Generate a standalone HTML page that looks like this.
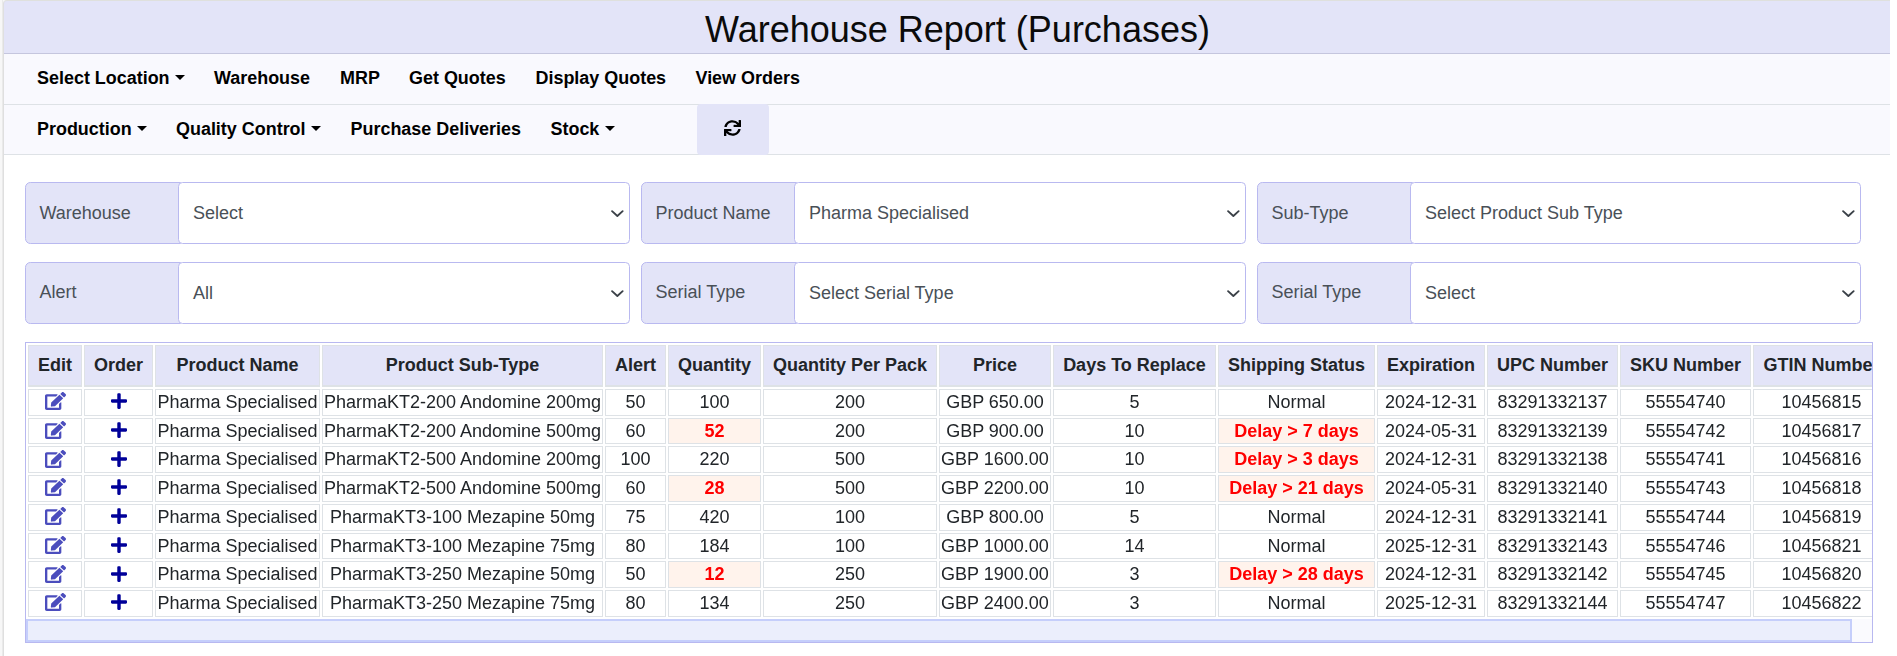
<!DOCTYPE html>
<html lang="en">
<head>
<meta charset="utf-8">
<title>Warehouse Report (Purchases)</title>
<style>
*{box-sizing:border-box;}
html,body{margin:0;padding:0;}
body{width:1897px;height:656px;overflow:hidden;background:#fff;font-family:"Liberation Sans",sans-serif;position:relative;color:#212529;}
.abs{position:absolute;}
#leftstrip{left:0;top:0;width:3px;height:656px;background:linear-gradient(to right,#f7f7f7 0,#f7f7f7 2px,#eaeaea 2px,#eaeaea 3px);}
#cornerpatch{left:3px;top:0;width:6px;height:6px;background:#f7f7f7;}
#leftborder{left:3px;top:6px;width:1px;height:650px;background:#dfdfdf;}
#topborder{left:8px;top:0;width:1882px;height:1px;background:#dfe0dd;}
#hdr{left:3px;top:0;width:1887px;height:53px;background:#e3e4f8;border-top-left-radius:4px;border-top:1px solid #dfe0dd;border-left:1px solid #dfdfdf;}
#hdrline{left:4px;top:53px;width:1886px;height:1px;background:#c5c6de;}
#title{left:4px;top:4px;width:1907px;height:52px;text-align:center;font-size:36px;line-height:52px;color:#0b0b0b;white-space:nowrap;}
#nav1{left:4px;top:54px;width:1886px;height:50px;background:#f9f9fe;}
#nav1line{left:4px;top:104px;width:1886px;height:1px;background:#dee2e6;}
#nav2{left:4px;top:105px;width:1886px;height:49px;background:#f9f9fe;}
#nav2line{left:4px;top:154px;width:1886px;height:1px;background:#dee2e6;}
.nl{position:absolute;font-weight:700;font-size:17.950px;line-height:22px;color:#000;white-space:nowrap;}
.r1{top:67px;}
.r2{top:118px;}
.caret{display:inline-block;width:0;height:0;margin-left:5.700px;vertical-align:4.5px;border-top:5.3px solid #000;border-left:5.3px solid transparent;border-right:5.3px solid transparent;}
#refresh{left:697px;top:104px;width:72px;height:51px;background:#e3e4f8;border-radius:4px;}
#refresh svg{position:absolute;left:27px;top:16px;width:17px;height:16px;}
.lbl{position:absolute;height:62px;width:156px;background:#e3e4f8;border:1px solid #b9b9f0;border-radius:5.400px 0 0 5.400px;font-size:18px;line-height:60px;padding-left:13.500px;color:#495057;white-space:nowrap;}
.lbl.l2{line-height:58.500px;}
.sel{position:absolute;height:62px;width:452px;background:#fff;border:1px solid #b9b9f0;border-radius:4.500px;font-size:18px;line-height:60px;padding-left:13.900px;color:#495057;white-space:nowrap;}
.sel svg{position:absolute;right:5px;top:26px;width:14px;height:9px;}
#wrap{left:25px;top:342px;width:1848px;height:301px;border:1px solid #b8b8f0;overflow:hidden;background:#fff;}
#tbl{position:absolute;left:0;top:0;border-collapse:separate;border-spacing:2px;table-layout:fixed;width:1866px;font-size:18px;}
#tbl th,#tbl td{border:1px solid #dee2e6;padding:0 0 2px 0;text-align:center;vertical-align:middle;white-space:nowrap;overflow:hidden;line-height:20px;}
#tbl th{background:#e3e4f8;font-weight:700;color:#212529;height:42px;border-bottom-width:2px;}
#tbl tbody{will-change:transform;}
#tbl td{color:#212529;vertical-align:top;padding:2px 0 0 0;}
#tbl tr.h27 td{height:27px;}
#tbl tr.h26 td{height:26px;}
#tbl td.hl{background:#fff3ec;color:#ff0000;font-weight:700;}
#tbl td svg{display:block;margin:0;}
#sbtrack{left:0;top:276px;width:1846px;height:23px;background:#fafafe;}
#sbthumb{left:0;top:276px;width:1826px;height:23px;background:#ebeefc;border:2px solid #c5cefb;}
</style>
</head>
<body>
<div class="abs" id="leftstrip"></div>
<div class="abs" id="cornerpatch"></div>
<div class="abs" id="leftborder"></div>
<div class="abs" id="topborder"></div>
<div class="abs" id="hdr"></div>
<div class="abs" id="hdrline"></div>
<div class="abs" id="title">Warehouse Report (Purchases)</div>
<div class="abs" id="nav1"></div>
<div class="abs" id="nav1line"></div>
<div class="abs" id="nav2"></div>
<div class="abs" id="nav2line"></div>

<div class="nl r1" style="left:37px">Select Location<span class="caret"></span></div>
<div class="nl r1" style="left:214px">Warehouse</div>
<div class="nl r1" style="left:340px">MRP</div>
<div class="nl r1" style="left:409px">Get Quotes</div>
<div class="nl r1" style="left:535.5px">Display Quotes</div>
<div class="nl r1" style="left:695.5px">View Orders</div>

<div class="nl r2" style="left:37px">Production<span class="caret"></span></div>
<div class="nl r2" style="left:176px">Quality Control<span class="caret"></span></div>
<div class="nl r2" style="left:350.5px">Purchase Deliveries</div>
<div class="nl r2" style="left:550.5px">Stock<span class="caret"></span></div>

<div class="abs" id="refresh"><svg viewBox="0 0 512 512" preserveAspectRatio="none"><path fill="#000" d="M440.65 12.570l4 82.770A247.160 247.160 0 0 0 255.830 8C134.730 8 33.910 94.920 12.290 209.820A12 12 0 0 0 24.090 224h49.050a12 12 0 0 0 11.670-9.260 175.910 175.910 0 0 1 317-56.940l-101.460-4.860a12 12 0 0 0-12.570 12v47.410a12 12 0 0 0 12 12H500a12 12 0 0 0 12-12V12a12 12 0 0 0-12-12h-47.370a12 12 0 0 0-11.980 12.570zM255.830 432a175.610 175.610 0 0 1-146-77.800l101.800 4.870a12 12 0 0 0 12.570-12v-47.400a12 12 0 0 0-12-12H12a12 12 0 0 0-12 12V500a12 12 0 0 0 12 12h47.350a12 12 0 0 0 12-12.600l-4.150-82.570A247.170 247.170 0 0 0 255.830 504c121.110 0 221.930-86.920 243.550-201.820a12 12 0 0 0-11.800-14.180h-49.050a12 12 0 0 0-11.670 9.260A175.860 175.860 0 0 1 255.830 432z"/></svg></div>

<!-- filters -->
<div class="lbl" style="left:25px;top:182px">Warehouse</div>
<div class="sel" style="left:178px;top:182px">Select<svg viewBox="0 0 14 9"><path d="M2.050 2.150 L7.350 7 L12.650 2.150" fill="none" stroke="#3b4148" stroke-width="1.900" stroke-linecap="round" stroke-linejoin="round"/></svg></div>
<div class="lbl" style="left:641px;top:182px">Product Name</div>
<div class="sel" style="left:794px;top:182px">Pharma Specialised<svg viewBox="0 0 14 9"><path d="M2.050 2.150 L7.350 7 L12.650 2.150" fill="none" stroke="#3b4148" stroke-width="1.900" stroke-linecap="round" stroke-linejoin="round"/></svg></div>
<div class="lbl" style="left:1257px;top:182px">Sub-Type</div>
<div class="sel" style="left:1410px;top:182px;width:451px">Select Product Sub Type<svg viewBox="0 0 14 9"><path d="M2.050 2.150 L7.350 7 L12.650 2.150" fill="none" stroke="#3b4148" stroke-width="1.900" stroke-linecap="round" stroke-linejoin="round"/></svg></div>

<div class="lbl l2" style="left:25px;top:262px">Alert</div>
<div class="sel" style="left:178px;top:262px">All<svg viewBox="0 0 14 9"><path d="M2.050 2.150 L7.350 7 L12.650 2.150" fill="none" stroke="#3b4148" stroke-width="1.900" stroke-linecap="round" stroke-linejoin="round"/></svg></div>
<div class="lbl l2" style="left:641px;top:262px">Serial Type</div>
<div class="sel" style="left:794px;top:262px">Select Serial Type<svg viewBox="0 0 14 9"><path d="M2.050 2.150 L7.350 7 L12.650 2.150" fill="none" stroke="#3b4148" stroke-width="1.900" stroke-linecap="round" stroke-linejoin="round"/></svg></div>
<div class="lbl l2" style="left:1257px;top:262px">Serial Type</div>
<div class="sel" style="left:1410px;top:262px;width:451px">Select<svg viewBox="0 0 14 9"><path d="M2.050 2.150 L7.350 7 L12.650 2.150" fill="none" stroke="#3b4148" stroke-width="1.900" stroke-linecap="round" stroke-linejoin="round"/></svg></div>

<!-- table -->
<div class="abs" id="wrap">
<table id="tbl">
<colgroup>
<col style="width:54px"><col style="width:69px"><col style="width:165px"><col style="width:281px"><col style="width:61px"><col style="width:93px"><col style="width:174px"><col style="width:112px"><col style="width:163px"><col style="width:157px"><col style="width:108px"><col style="width:131px"><col style="width:131px"><col style="width:137px">
</colgroup>
<thead>
<tr><th>Edit</th><th>Order</th><th>Product Name</th><th>Product Sub-Type</th><th>Alert</th><th>Quantity</th><th>Quantity Per Pack</th><th>Price</th><th>Days To Replace</th><th>Shipping Status</th><th>Expiration</th><th>UPC Number</th><th>SKU Number</th><th>GTIN Number</th></tr>
</thead>
<tbody id="tb">
<tr class="h27"><td><svg width="21" height="18" viewBox="0 0 576 512" preserveAspectRatio="none" style="margin-left:16px"><path fill="#4b4dbd" d="M402.600 83.200l90.200 90.200c3.800 3.800 3.800 10 0 13.800L274.400 405.600l-92.800 10.300c-12.400 1.400-22.900-9.100-21.500-21.500l10.300-92.800L388.800 83.200c3.800-3.800 10-3.800 13.800 0zm162-22.900l-48.800-48.800c-15.200-15.200-39.900-15.200-55.200 0l-35.400 35.400c-3.800 3.800-3.800 10 0 13.800l90.200 90.200c3.800 3.800 10 3.800 13.800 0l35.400-35.400c15.200-15.300 15.200-40 0-55.200zM384 346.200V448H64V128h229.800c3.200 0 6.200-1.300 8.500-3.500l40-40c7.600-7.600 2.200-20.500-8.500-20.500H48C21.500 64 0 85.500 0 112v352c0 26.500 21.500 48 48 48h352c26.500 0 48-21.500 48-48V306.200c0-10.700-12.900-16-20.500-8.500l-40 40c-2.200 2.300-3.500 5.300-3.500 8.500z"/></svg></td><td><svg width="16" height="18" viewBox="0 0 448 512" preserveAspectRatio="none" style="margin-left:26px"><path fill="#000099" d="M416 208H272V64c0-17.670-14.330-32-32-32h-32c-17.670 0-32 14.330-32 32v144H32c-17.670 0-32 14.330-32 32v32c0 17.670 14.330 32 32 32h144v144c0 17.670 14.330 32 32 32h32c17.670 0 32-14.330 32-32V304h144c17.670 0 32-14.330 32-32v-32c0-17.670-14.330-32-32-32z"/></svg></td><td>Pharma Specialised</td><td>PharmaKT2-200 Andomine 200mg</td><td>50</td><td>100</td><td>200</td><td>GBP 650.00</td><td>5</td><td>Normal</td><td>2024-12-31</td><td>83291332137</td><td>55554740</td><td>10456815</td></tr>
<tr class="h26"><td><svg width="21" height="18" viewBox="0 0 576 512" preserveAspectRatio="none" style="margin-left:16px"><path fill="#4b4dbd" d="M402.600 83.200l90.200 90.200c3.800 3.800 3.800 10 0 13.800L274.400 405.600l-92.800 10.300c-12.400 1.400-22.900-9.100-21.500-21.500l10.300-92.800L388.800 83.200c3.800-3.800 10-3.800 13.800 0zm162-22.900l-48.800-48.800c-15.200-15.200-39.900-15.200-55.200 0l-35.400 35.400c-3.800 3.800-3.800 10 0 13.800l90.200 90.200c3.800 3.800 10 3.800 13.800 0l35.400-35.400c15.200-15.300 15.200-40 0-55.200zM384 346.200V448H64V128h229.800c3.200 0 6.200-1.300 8.500-3.500l40-40c7.600-7.600 2.200-20.500-8.500-20.500H48C21.500 64 0 85.500 0 112v352c0 26.500 21.500 48 48 48h352c26.500 0 48-21.500 48-48V306.200c0-10.700-12.900-16-20.500-8.500l-40 40c-2.200 2.300-3.500 5.300-3.500 8.500z"/></svg></td><td><svg width="16" height="18" viewBox="0 0 448 512" preserveAspectRatio="none" style="margin-left:26px"><path fill="#000099" d="M416 208H272V64c0-17.670-14.330-32-32-32h-32c-17.670 0-32 14.330-32 32v144H32c-17.670 0-32 14.330-32 32v32c0 17.670 14.330 32 32 32h144v144c0 17.670 14.330 32 32 32h32c17.670 0 32-14.330 32-32V304h144c17.670 0 32-14.330 32-32v-32c0-17.670-14.330-32-32-32z"/></svg></td><td>Pharma Specialised</td><td>PharmaKT2-200 Andomine 500mg</td><td>60</td><td class="hl">52</td><td>200</td><td>GBP 900.00</td><td>10</td><td class="hl">Delay &gt; 7 days</td><td>2024-05-31</td><td>83291332139</td><td>55554742</td><td>10456817</td></tr>
<tr class="h27"><td><svg width="21" height="18" viewBox="0 0 576 512" preserveAspectRatio="none" style="margin-left:16px;margin-top:1px"><path fill="#4b4dbd" d="M402.600 83.200l90.200 90.200c3.800 3.800 3.800 10 0 13.800L274.400 405.600l-92.800 10.300c-12.400 1.400-22.900-9.100-21.500-21.500l10.300-92.800L388.800 83.200c3.800-3.800 10-3.800 13.800 0zm162-22.900l-48.800-48.800c-15.200-15.200-39.900-15.200-55.200 0l-35.400 35.400c-3.800 3.800-3.800 10 0 13.800l90.200 90.200c3.800 3.800 10 3.800 13.800 0l35.400-35.400c15.200-15.300 15.200-40 0-55.200zM384 346.200V448H64V128h229.800c3.200 0 6.200-1.300 8.500-3.500l40-40c7.600-7.600 2.200-20.500-8.500-20.500H48C21.500 64 0 85.500 0 112v352c0 26.500 21.500 48 48 48h352c26.500 0 48-21.500 48-48V306.200c0-10.700-12.900-16-20.500-8.500l-40 40c-2.200 2.300-3.500 5.300-3.500 8.500z"/></svg></td><td><svg width="16" height="18" viewBox="0 0 448 512" preserveAspectRatio="none" style="margin-left:26px;margin-top:1px"><path fill="#000099" d="M416 208H272V64c0-17.670-14.330-32-32-32h-32c-17.670 0-32 14.330-32 32v144H32c-17.670 0-32 14.330-32 32v32c0 17.670 14.330 32 32 32h144v144c0 17.670 14.330 32 32 32h32c17.670 0 32-14.330 32-32V304h144c17.670 0 32-14.330 32-32v-32c0-17.670-14.330-32-32-32z"/></svg></td><td>Pharma Specialised</td><td>PharmaKT2-500 Andomine 200mg</td><td>100</td><td>220</td><td>500</td><td>GBP 1600.00</td><td>10</td><td class="hl">Delay &gt; 3 days</td><td>2024-12-31</td><td>83291332138</td><td>55554741</td><td>10456816</td></tr>
<tr class="h27"><td><svg width="21" height="18" viewBox="0 0 576 512" preserveAspectRatio="none" style="margin-left:16px"><path fill="#4b4dbd" d="M402.600 83.200l90.200 90.200c3.800 3.800 3.800 10 0 13.800L274.400 405.600l-92.800 10.300c-12.400 1.400-22.900-9.100-21.500-21.500l10.300-92.800L388.800 83.200c3.800-3.800 10-3.800 13.800 0zm162-22.900l-48.800-48.800c-15.200-15.200-39.900-15.200-55.200 0l-35.400 35.400c-3.800 3.800-3.800 10 0 13.800l90.200 90.200c3.800 3.800 10 3.800 13.800 0l35.400-35.400c15.200-15.300 15.200-40 0-55.200zM384 346.200V448H64V128h229.800c3.200 0 6.200-1.300 8.500-3.500l40-40c7.600-7.600 2.200-20.500-8.500-20.500H48C21.500 64 0 85.500 0 112v352c0 26.500 21.500 48 48 48h352c26.500 0 48-21.500 48-48V306.200c0-10.700-12.900-16-20.500-8.500l-40 40c-2.200 2.300-3.500 5.300-3.500 8.500z"/></svg></td><td><svg width="16" height="18" viewBox="0 0 448 512" preserveAspectRatio="none" style="margin-left:26px"><path fill="#000099" d="M416 208H272V64c0-17.670-14.330-32-32-32h-32c-17.670 0-32 14.330-32 32v144H32c-17.670 0-32 14.330-32 32v32c0 17.670 14.330 32 32 32h144v144c0 17.670 14.330 32 32 32h32c17.670 0 32-14.330 32-32V304h144c17.670 0 32-14.330 32-32v-32c0-17.670-14.330-32-32-32z"/></svg></td><td>Pharma Specialised</td><td>PharmaKT2-500 Andomine 500mg</td><td>60</td><td class="hl">28</td><td>500</td><td>GBP 2200.00</td><td>10</td><td class="hl">Delay &gt; 21 days</td><td>2024-05-31</td><td>83291332140</td><td>55554743</td><td>10456818</td></tr>
<tr class="h27"><td><svg width="21" height="18" viewBox="0 0 576 512" preserveAspectRatio="none" style="margin-left:16px"><path fill="#4b4dbd" d="M402.600 83.200l90.200 90.200c3.800 3.800 3.800 10 0 13.800L274.400 405.600l-92.800 10.300c-12.400 1.400-22.900-9.100-21.500-21.500l10.300-92.800L388.800 83.200c3.800-3.800 10-3.800 13.800 0zm162-22.900l-48.800-48.800c-15.200-15.200-39.900-15.200-55.200 0l-35.400 35.400c-3.800 3.800-3.800 10 0 13.800l90.200 90.200c3.800 3.800 10 3.800 13.800 0l35.400-35.400c15.200-15.300 15.200-40 0-55.200zM384 346.200V448H64V128h229.800c3.200 0 6.200-1.300 8.500-3.500l40-40c7.600-7.600 2.200-20.500-8.500-20.500H48C21.500 64 0 85.500 0 112v352c0 26.500 21.500 48 48 48h352c26.500 0 48-21.500 48-48V306.200c0-10.700-12.900-16-20.500-8.500l-40 40c-2.200 2.300-3.500 5.300-3.500 8.500z"/></svg></td><td><svg width="16" height="18" viewBox="0 0 448 512" preserveAspectRatio="none" style="margin-left:26px"><path fill="#000099" d="M416 208H272V64c0-17.670-14.330-32-32-32h-32c-17.670 0-32 14.330-32 32v144H32c-17.670 0-32 14.330-32 32v32c0 17.670 14.330 32 32 32h144v144c0 17.670 14.330 32 32 32h32c17.670 0 32-14.330 32-32V304h144c17.670 0 32-14.330 32-32v-32c0-17.670-14.330-32-32-32z"/></svg></td><td>Pharma Specialised</td><td>PharmaKT3-100 Mezapine 50mg</td><td>75</td><td>420</td><td>100</td><td>GBP 800.00</td><td>5</td><td>Normal</td><td>2024-12-31</td><td>83291332141</td><td>55554744</td><td>10456819</td></tr>
<tr class="h26"><td><svg width="21" height="18" viewBox="0 0 576 512" preserveAspectRatio="none" style="margin-left:16px"><path fill="#4b4dbd" d="M402.600 83.200l90.200 90.200c3.800 3.800 3.800 10 0 13.800L274.400 405.600l-92.800 10.300c-12.400 1.400-22.900-9.100-21.500-21.500l10.300-92.800L388.800 83.200c3.800-3.800 10-3.800 13.800 0zm162-22.900l-48.800-48.800c-15.200-15.200-39.900-15.200-55.200 0l-35.400 35.400c-3.800 3.800-3.800 10 0 13.800l90.200 90.200c3.800 3.800 10 3.800 13.800 0l35.400-35.400c15.200-15.300 15.200-40 0-55.200zM384 346.200V448H64V128h229.800c3.200 0 6.200-1.300 8.500-3.500l40-40c7.600-7.600 2.200-20.500-8.500-20.500H48C21.500 64 0 85.500 0 112v352c0 26.500 21.500 48 48 48h352c26.500 0 48-21.500 48-48V306.200c0-10.700-12.900-16-20.500-8.500l-40 40c-2.200 2.300-3.500 5.300-3.500 8.500z"/></svg></td><td><svg width="16" height="18" viewBox="0 0 448 512" preserveAspectRatio="none" style="margin-left:26px"><path fill="#000099" d="M416 208H272V64c0-17.670-14.330-32-32-32h-32c-17.670 0-32 14.330-32 32v144H32c-17.670 0-32 14.330-32 32v32c0 17.670 14.330 32 32 32h144v144c0 17.670 14.330 32 32 32h32c17.670 0 32-14.330 32-32V304h144c17.670 0 32-14.330 32-32v-32c0-17.670-14.330-32-32-32z"/></svg></td><td>Pharma Specialised</td><td>PharmaKT3-100 Mezapine 75mg</td><td>80</td><td>184</td><td>100</td><td>GBP 1000.00</td><td>14</td><td>Normal</td><td>2025-12-31</td><td>83291332143</td><td>55554746</td><td>10456821</td></tr>
<tr class="h27"><td><svg width="21" height="18" viewBox="0 0 576 512" preserveAspectRatio="none" style="margin-left:16px;margin-top:1px"><path fill="#4b4dbd" d="M402.600 83.200l90.200 90.200c3.800 3.800 3.800 10 0 13.800L274.400 405.600l-92.800 10.300c-12.400 1.400-22.900-9.100-21.500-21.500l10.300-92.800L388.800 83.200c3.800-3.800 10-3.800 13.800 0zm162-22.900l-48.800-48.800c-15.200-15.200-39.900-15.200-55.200 0l-35.400 35.400c-3.800 3.800-3.800 10 0 13.800l90.200 90.200c3.800 3.800 10 3.800 13.800 0l35.400-35.400c15.200-15.300 15.200-40 0-55.200zM384 346.200V448H64V128h229.800c3.200 0 6.200-1.300 8.500-3.500l40-40c7.600-7.600 2.200-20.500-8.500-20.500H48C21.500 64 0 85.500 0 112v352c0 26.500 21.500 48 48 48h352c26.500 0 48-21.500 48-48V306.200c0-10.700-12.900-16-20.500-8.500l-40 40c-2.200 2.300-3.500 5.300-3.500 8.500z"/></svg></td><td><svg width="16" height="18" viewBox="0 0 448 512" preserveAspectRatio="none" style="margin-left:26px;margin-top:1px"><path fill="#000099" d="M416 208H272V64c0-17.670-14.330-32-32-32h-32c-17.670 0-32 14.330-32 32v144H32c-17.670 0-32 14.330-32 32v32c0 17.670 14.330 32 32 32h144v144c0 17.670 14.330 32 32 32h32c17.670 0 32-14.330 32-32V304h144c17.670 0 32-14.330 32-32v-32c0-17.670-14.330-32-32-32z"/></svg></td><td>Pharma Specialised</td><td>PharmaKT3-250 Mezapine 50mg</td><td>50</td><td class="hl">12</td><td>250</td><td>GBP 1900.00</td><td>3</td><td class="hl">Delay &gt; 28 days</td><td>2024-12-31</td><td>83291332142</td><td>55554745</td><td>10456820</td></tr>
<tr class="h27"><td><svg width="21" height="18" viewBox="0 0 576 512" preserveAspectRatio="none" style="margin-left:16px"><path fill="#4b4dbd" d="M402.600 83.200l90.200 90.200c3.800 3.800 3.800 10 0 13.800L274.400 405.600l-92.800 10.300c-12.400 1.400-22.900-9.100-21.500-21.500l10.300-92.800L388.800 83.200c3.800-3.800 10-3.800 13.800 0zm162-22.900l-48.800-48.800c-15.200-15.200-39.900-15.200-55.200 0l-35.400 35.400c-3.800 3.800-3.800 10 0 13.800l90.200 90.200c3.800 3.800 10 3.800 13.800 0l35.400-35.400c15.200-15.300 15.200-40 0-55.200zM384 346.200V448H64V128h229.800c3.200 0 6.200-1.300 8.500-3.500l40-40c7.600-7.600 2.200-20.500-8.500-20.500H48C21.500 64 0 85.500 0 112v352c0 26.500 21.500 48 48 48h352c26.500 0 48-21.500 48-48V306.200c0-10.700-12.900-16-20.500-8.500l-40 40c-2.200 2.300-3.500 5.300-3.500 8.500z"/></svg></td><td><svg width="16" height="18" viewBox="0 0 448 512" preserveAspectRatio="none" style="margin-left:26px"><path fill="#000099" d="M416 208H272V64c0-17.670-14.330-32-32-32h-32c-17.670 0-32 14.330-32 32v144H32c-17.670 0-32 14.330-32 32v32c0 17.670 14.330 32 32 32h144v144c0 17.670 14.330 32 32 32h32c17.670 0 32-14.330 32-32V304h144c17.670 0 32-14.330 32-32v-32c0-17.670-14.330-32-32-32z"/></svg></td><td>Pharma Specialised</td><td>PharmaKT3-250 Mezapine 75mg</td><td>80</td><td>134</td><td>250</td><td>GBP 2400.00</td><td>3</td><td>Normal</td><td>2025-12-31</td><td>83291332144</td><td>55554747</td><td>10456822</td></tr>
</tbody>
</table>
<div class="abs" id="sbtrack"></div>
<div class="abs" id="sbthumb"></div>
</div>
</body>
</html>
